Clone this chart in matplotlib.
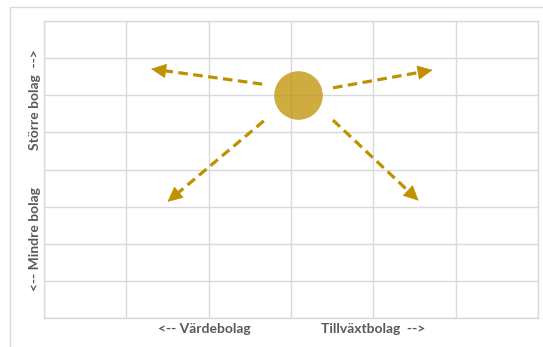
import matplotlib.pyplot as plt
from matplotlib.patches import Rectangle

# bubble position (grid units) and its radius in points
bubble_x = [3.08]
bubble_y = [6.0]
bubble_r = 17.5

# dashed arrows: start -> tip
arrow_start = [(2.65, 6.30), (3.51, 6.20), (2.67, 5.31), (3.51, 5.33)]
arrow_end = [(1.30, 6.71), (4.72, 6.68), (1.50, 3.13), (4.55, 3.16)]

x_labels = ["<-- Värdebolag", "Tillväxtbolag  -->"]
x_label_pos = [1.95, 4.0]
y_labels = ["<-- Mindre bolag", "Större bolag  -->"]
y_label_pos = [2.13, 5.87]

gold = "#BF9000"
grid_col = "#D9D9D9"
text_col = "#595959"

plt.rcParams['font.family'] = ['Lato', 'DejaVu Sans']

fig = plt.figure(figsize=(5.43, 3.47), dpi=100)
# chart frame (only top and left edge visible)
fig.patches.append(Rectangle((10/543, -0.1), 1.2, 1 - 7/347 + 0.1, transform=fig.transFigure,
                             fill=False, edgecolor=grid_col, lw=1.0))

ax = fig.add_axes([44/543, 29/347, 494/543, 297/347])
ax.set_xlim(0, 6)
ax.set_ylim(0, 8)
ax.set_xticks(range(7))
ax.set_yticks(range(9))
ax.grid(True, color=grid_col, lw=1.0)
ax.tick_params(length=0, labelbottom=False, labelleft=False)
for s in ax.spines.values():
    s.set_color(grid_col)
    s.set_linewidth(1.0)
ax.set_axisbelow(True)

ax.scatter(bubble_x, bubble_y, s=(2*bubble_r)**2, color=gold, alpha=0.75, lw=0, zorder=3)

for (x0, y0), (x1, y1) in zip(arrow_start, arrow_end):
    # dashed shaft, stopping at the base of the head
    ax.annotate("", xy=(x1, y1), xytext=(x0, y0),
                arrowprops=dict(arrowstyle="-", color=gold, lw=2.3,
                                linestyle=(0, (3.0, 1.7)), capstyle="butt",
                                shrinkA=0, shrinkB=8.5))
    # solid filled head
    hx = x1 - (x1 - x0) * 0.03
    hy = y1 - (y1 - y0) * 0.03
    ax.annotate("", xy=(x1, y1), xytext=(hx, hy),
                arrowprops=dict(arrowstyle="-|>,head_length=1.0,head_width=0.48",
                                color=gold, lw=0.5, shrinkA=0, shrinkB=0,
                                mutation_scale=10))

for lab, px in zip(x_labels, x_label_pos):
    ax.text(px, -0.3, lab, ha="center", va="center", fontsize=10,
            fontweight="bold", color=text_col)
for lab, py in zip(y_labels, y_label_pos):
    ax.text(-0.11, py, lab, ha="center", va="center", rotation=90,
            fontsize=10, fontweight="bold", color=text_col)

fig.savefig("out.png", dpi=100)
